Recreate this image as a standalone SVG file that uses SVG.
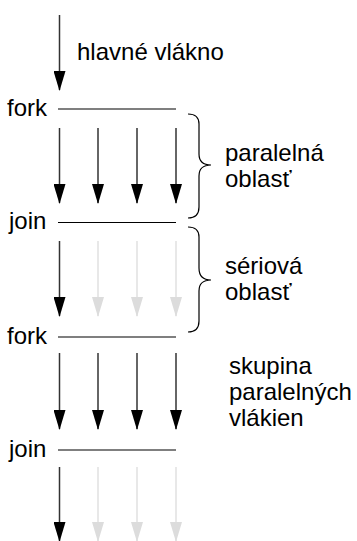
<svg xmlns="http://www.w3.org/2000/svg" width="357" height="541" viewBox="0 0 357 541">
  <defs>
    <!-- arrowheads drawn along +x so orient="auto" points them down the threads -->
    <marker id="ah" markerWidth="20" markerHeight="12" refX="19" refY="6" orient="auto" markerUnits="userSpaceOnUse" viewBox="0 0 20 12">
      <path d="M0,0 L20,6 L0,12 Z" fill="#000"/>
    </marker>
    <marker id="ahg" markerWidth="20" markerHeight="12" refX="19" refY="6" orient="auto" markerUnits="userSpaceOnUse" viewBox="0 0 20 12">
      <path d="M0,0 L20,6 L0,12 Z" fill="#dcdcdc"/>
    </marker>
  </defs>
  <style>
    text { font-family: "Liberation Sans", Arial, sans-serif; font-size: 24px; fill: #000; }
    .bar { stroke: #000; stroke-width: 1.2; }
    .th { stroke: #333; stroke-width: 1.5; fill: none; }
    .idle { stroke: #e0e0e0; stroke-width: 1.5; fill: none; }
    .brace { stroke: #000; stroke-width: 1.2; fill: none; }
  </style>
  <rect width="357" height="541" fill="#fff"/>

  <g id="connectors">
    <!-- main thread -->
    <line class="th" x1="59.5" y1="15" x2="59.5" y2="90" marker-end="url(#ah)"/>
    <!-- parallel region -->
    <line class="th" x1="59.5" y1="128" x2="59.5" y2="203" marker-end="url(#ah)"/>
    <line class="th" x1="98" y1="128" x2="98" y2="203" marker-end="url(#ah)"/>
    <line class="th" x1="137" y1="128" x2="137" y2="203" marker-end="url(#ah)"/>
    <line class="th" x1="176" y1="128" x2="176" y2="203" marker-end="url(#ah)"/>
    <!-- serial region -->
    <line class="th" x1="59.5" y1="241" x2="59.5" y2="316" marker-end="url(#ah)"/>
    <line class="idle" x1="98" y1="241" x2="98" y2="316" marker-end="url(#ahg)"/>
    <line class="idle" x1="137" y1="241" x2="137" y2="316" marker-end="url(#ahg)"/>
    <line class="idle" x1="176" y1="241" x2="176" y2="316" marker-end="url(#ahg)"/>
    <!-- thread team -->
    <line class="th" x1="59.5" y1="353" x2="59.5" y2="429" marker-end="url(#ah)"/>
    <line class="th" x1="98" y1="353" x2="98" y2="429" marker-end="url(#ah)"/>
    <line class="th" x1="137" y1="353" x2="137" y2="429" marker-end="url(#ah)"/>
    <line class="th" x1="176" y1="353" x2="176" y2="429" marker-end="url(#ah)"/>
    <!-- after join -->
    <line class="th" x1="59.5" y1="467" x2="59.5" y2="541" marker-end="url(#ah)"/>
    <line class="idle" x1="98" y1="467" x2="98" y2="541" marker-end="url(#ahg)"/>
    <line class="idle" x1="137" y1="467" x2="137" y2="541" marker-end="url(#ahg)"/>
    <line class="idle" x1="176" y1="467" x2="176" y2="541" marker-end="url(#ahg)"/>
  </g>

  <g id="fork1">
    <text x="7" y="116">fork</text>
    <line class="bar" x1="58" y1="109" x2="176" y2="109"/>
  </g>
  <g id="join1">
    <text x="9" y="229">join</text>
    <line class="bar" x1="58" y1="222.5" x2="176" y2="222.5"/>
  </g>
  <g id="fork2">
    <text x="7" y="344">fork</text>
    <line class="bar" x1="58" y1="337" x2="176" y2="337"/>
  </g>
  <g id="join2">
    <text x="9" y="457">join</text>
    <line class="bar" x1="58" y1="450" x2="176" y2="450"/>
  </g>

  <g id="main-label">
    <text x="77" y="60">hlavné vlákno</text>
  </g>

  <g id="parallel-region">
    <path class="brace" d="M188,114 Q199,114 199,124 L199,154 Q199,165 211,165 Q199,165 199,176 L199,207 Q199,218 188,218"/>
    <text x="225" y="161">paralelná</text>
    <text x="225" y="187">oblasť</text>
  </g>

  <g id="serial-region">
    <path class="brace" d="M188,227 Q199,227 199,237 L199,268 Q199,280 211,280 Q199,280 199,291 L199,321 Q199,332 188,332"/>
    <text x="225" y="274">sériová</text>
    <text x="225" y="300">oblasť</text>
  </g>

  <g id="team-label">
    <text x="229" y="374">skupina</text>
    <text x="229" y="400">paralelných</text>
    <text x="229" y="426">vlákien</text>
  </g>
</svg>
